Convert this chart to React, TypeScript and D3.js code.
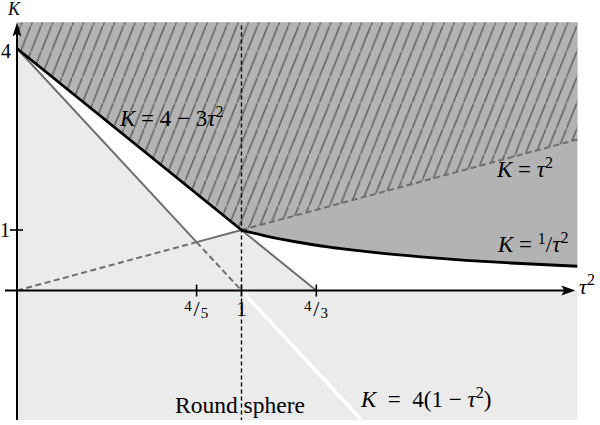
import React from 'react';
import * as d3 from 'd3';

const W = 600;
const H = 425;

// axis domains (τ², K)
const xDomain = [0, 2.496];
const yDomain = [-2.14, 4.43];

// tick values and labels
const xTicks = [0.8, 1, 4 / 3];
const xTickLabels = [['4', '5'], ['1'], ['4', '3']];
const yTicks = [1];
const yTickLabels = ['1'];
const yLabelOnly = [4];
const yLabelOnlyText = ['4'];

// straight lines (τ², K) break points
const lineSquareX = [0, 0.8, 1, 2.496]; // K = τ²
const lineSquareK = [0, 0.8, 1, 2.496];
const lineFourX = [0, 0.8, 1, 1.535]; // K = 4(1 − τ²)
const lineFourK = [4, 0.8, 0, -2.14];
const lineThreeX = [0, 1, 4 / 3]; // K = 4 − 3τ²
const lineThreeK = [4, 1, 0];

// K = 1/τ² curve samples
const invX = [1, 1.1, 1.2, 1.3, 1.4, 1.5, 1.6, 1.8, 2.0, 2.2, 2.496];
const invK = [1, 0.909, 0.833, 0.769, 0.714, 0.667, 0.625, 0.556, 0.5, 0.455, 0.401];

const LIGHT = '#ebebeb';
const DARK = '#b3b3b3';
const GRAYLINE = '#6e6e6e';
const HATCH = '#666666';
const FONT = "'Liberation Serif', 'DejaVu Serif', serif";

export default function App() {
  const x = d3.scaleLinear().domain(xDomain).range([17, 577.3]);
  const y = d3.scaleLinear().domain(yDomain).range([420, 22.5]);
  const [x0, x1] = xDomain;
  const [y0, y1] = yDomain;

  const line = d3.line<number[]>().x((d) => x(d[0])).y((d) => y(d[1]));
  const curve = d3.line<number[]>().x((d) => x(d[0])).y((d) => y(d[1])).curve(d3.curveMonotoneX);

  const inv = invX.map((v, i) => [v, invK[i]]);
  const sq = lineSquareX.map((v, i) => [v, lineSquareK[i]]);
  const fo = lineFourX.map((v, i) => [v, lineFourK[i]]);
  const th = lineThreeX.map((v, i) => [v, lineThreeK[i]]);

  const invPath = curve(inv) as string; // starts at (1,1)
  const invPathNoM = invPath.replace(/^M[^CLc]*/, '');

  const whitePath =
    `M${x(th[0][0])},${y(th[0][1])}L${x(th[1][0])},${y(th[1][1])}` +
    invPathNoM +
    `L${x(x1)},${y(0)}L${x(th[2][0])},${y(th[2][1])}L${x(th[1][0])},${y(th[1][1])}` +
    `L${x(sq[1][0])},${y(sq[1][1])}L${x(fo[0][0])},${y(fo[0][1])}Z`;

  const darkPath =
    `M${x(x0)},${y(y1)}L${x(th[0][0])},${y(th[0][1])}L${x(th[1][0])},${y(th[1][1])}` +
    invPathNoM +
    `L${x(x1)},${y(y1)}Z`;

  const hatchPath =
    `M${x(x0)},${y(y1)}L${x(th[0][0])},${y(th[0][1])}L${x(th[1][0])},${y(th[1][1])}` +
    `L${x(sq[3][0])},${y(sq[3][1])}L${x(x1)},${y(y1)}Z`;

  const hw = 10.3;
  const hh = hw * 2.5;

  const mathSize = 23;
  const supSize = 16;
  const EN = '\u2002';

  return (
    <svg width={W} height={H} style={{ position: 'absolute', left: 0, top: 0, background: '#fff' }}>
      <defs>
        <pattern id="hatch" patternUnits="userSpaceOnUse" width={hw} height={hh}>
          <rect width={hw} height={hh} fill={DARK} />
          <line x1={-hw * 0.2} y1={hh + hh * 0.2} x2={hw * 1.2} y2={-hh * 0.2} stroke={HATCH} strokeWidth={1.6} />
        </pattern>
      </defs>

      {/* regions */}
      <rect x={x(x0)} y={y(y1)} width={x(x1) - x(x0)} height={y(y0) - y(y1)} fill={LIGHT} />
      <path d={whitePath} fill="#fff" />
      <path d={darkPath} fill={DARK} />
      <path d={hatchPath} fill="url(#hatch)" />

      {/* K = τ² */}
      <path d={line([sq[0], sq[1]]) as string} stroke={GRAYLINE} strokeWidth={2} strokeDasharray="6,3.5" fill="none" />
      <path d={line([sq[1], sq[2]]) as string} stroke={GRAYLINE} strokeWidth={2} fill="none" />
      <path d={line([sq[2], sq[3]]) as string} stroke={GRAYLINE} strokeWidth={2} strokeDasharray="6,3.5" fill="none" />

      {/* K = 4(1 − τ²) */}
      <path d={line([fo[0], fo[1]]) as string} stroke={GRAYLINE} strokeWidth={2} fill="none" />
      <path d={line([fo[1], fo[2]]) as string} stroke={GRAYLINE} strokeWidth={2} strokeDasharray="6,3.5" fill="none" />
      <path d={line([fo[2], fo[3]]) as string} stroke="#fff" strokeWidth={3.4} fill="none" />

      {/* K = 4 − 3τ² */}
      <path d={line([th[1], th[2]]) as string} stroke={GRAYLINE} strokeWidth={2} fill="none" />
      <path d={line([th[0], th[1]]) as string} stroke="#000" strokeWidth={2.8} fill="none" />

      {/* K = 1/τ² */}
      <path d={invPath} stroke="#000" strokeWidth={2.8} fill="none" />

      {/* vertical dashed τ² = 1 */}
      <line x1={x(1)} x2={x(1)} y1={y(y1) + 3} y2={y(y0)} stroke="#000" strokeWidth={1.4} strokeDasharray="4,3" />

      {/* axes */}
      <line x1={x(0)} x2={x(0)} y1={y(y0)} y2={y(y1) + 10} stroke="#000" strokeWidth={2} />
      <path d={`M${x(0)},${y(y1)}L${x(0) - 4.5},${y(y1) + 14}L${x(0)},${y(y1) + 11}L${x(0) + 4.5},${y(y1) + 14}Z`} fill="#000" />
      <line x1={5} x2={x(x1) - 8} y1={y(0)} y2={y(0)} stroke="#000" strokeWidth={2} />
      <path d={`M${x(x1) - 2},${y(0)}L${x(x1) - 16},${y(0) - 5}L${x(x1) - 13},${y(0)}L${x(x1) - 16},${y(0) + 5}Z`} fill="#000" />

      {/* y ticks */}
      {yTicks.map((t, i) => (
        <g key={'yt' + i}>
          <line x1={x(0) - 7} x2={x(0) + 6} y1={y(t)} y2={y(t)} stroke="#000" strokeWidth={1.6} />
          <text x={x(0) - 7} y={y(t) + 7} textAnchor="end" fontFamily={FONT} fontSize={20}>{yTickLabels[i]}</text>
        </g>
      ))}
      {yLabelOnly.map((t, i) => (
        <text key={'yl' + i} x={x(0) - 6} y={y(t) + 9} textAnchor="end" fontFamily={FONT} fontSize={20}>{yLabelOnlyText[i]}</text>
      ))}

      {/* x ticks */}
      {xTicks.map((t, i) => {
        const lab = xTickLabels[i];
        const cx = x(t);
        return (
          <g key={'xt' + i}>
            <line x1={cx} x2={cx} y1={y(0) - 6} y2={y(0) + 6} stroke="#000" strokeWidth={1.6} />
            {lab.length === 1 ? (
              <text x={cx} y={y(0) + 25} textAnchor="middle" fontFamily={FONT} fontSize={22}>{lab[0]}</text>
            ) : (
              <g fontFamily={FONT}>
                <text x={cx - 8.5} y={y(0) + 20} textAnchor="middle" fontSize={15}>{lab[0]}</text>
                <text x={cx} y={y(0) + 25} textAnchor="middle" fontSize={22}>/</text>
                <text x={cx + 8} y={y(0) + 27} textAnchor="middle" fontSize={15}>{lab[1]}</text>
              </g>
            )}
          </g>
        );
      })}

      {/* axis labels */}
      <text x={8} y={15} fontFamily={FONT} fontSize={18} fontStyle="italic">K</text>
      <text x={579} y={294} fontFamily={FONT} fontSize={22} fontStyle="italic">
        τ<tspan fontSize={supSize} fontStyle="normal" dy={-9}>2</tspan>
      </text>

      {/* curve labels */}
      <text x={120} y={126} fontFamily={FONT} fontSize={mathSize}>
        <tspan fontStyle="italic">K</tspan>
        <tspan>{' = 4 − 3'}</tspan>
        <tspan fontStyle="italic">τ</tspan>
        <tspan fontSize={supSize} dy={-9}>2</tspan>
      </text>
      <text x={497} y={177} fontFamily={FONT} fontSize={mathSize}>
        <tspan fontStyle="italic">K</tspan>
        <tspan>{' = '}</tspan>
        <tspan fontStyle="italic">τ</tspan>
        <tspan fontSize={supSize} dy={-9}>2</tspan>
      </text>
      <text x={498} y={252} fontFamily={FONT} fontSize={mathSize}>
        <tspan fontStyle="italic">K</tspan>
        <tspan>{' = '}</tspan>
        <tspan fontSize={supSize} dy={-8}>1</tspan>
        <tspan dy={8}>/</tspan>
        <tspan fontStyle="italic">τ</tspan>
        <tspan fontSize={supSize} dy={-9}>2</tspan>
      </text>
      <text x={361} y={407} fontFamily={FONT} fontSize={mathSize}>
        <tspan fontStyle="italic">K</tspan>
        <tspan>{`${EN}=${EN}4(1 − `}</tspan>
        <tspan fontStyle="italic">τ</tspan>
        <tspan fontSize={supSize} dy={-9}>2</tspan>
        <tspan dy={9}>)</tspan>
      </text>
      <text x={175} y={413} fontFamily={FONT} fontSize={23.5}>Round sphere</text>
    </svg>
  );
}
